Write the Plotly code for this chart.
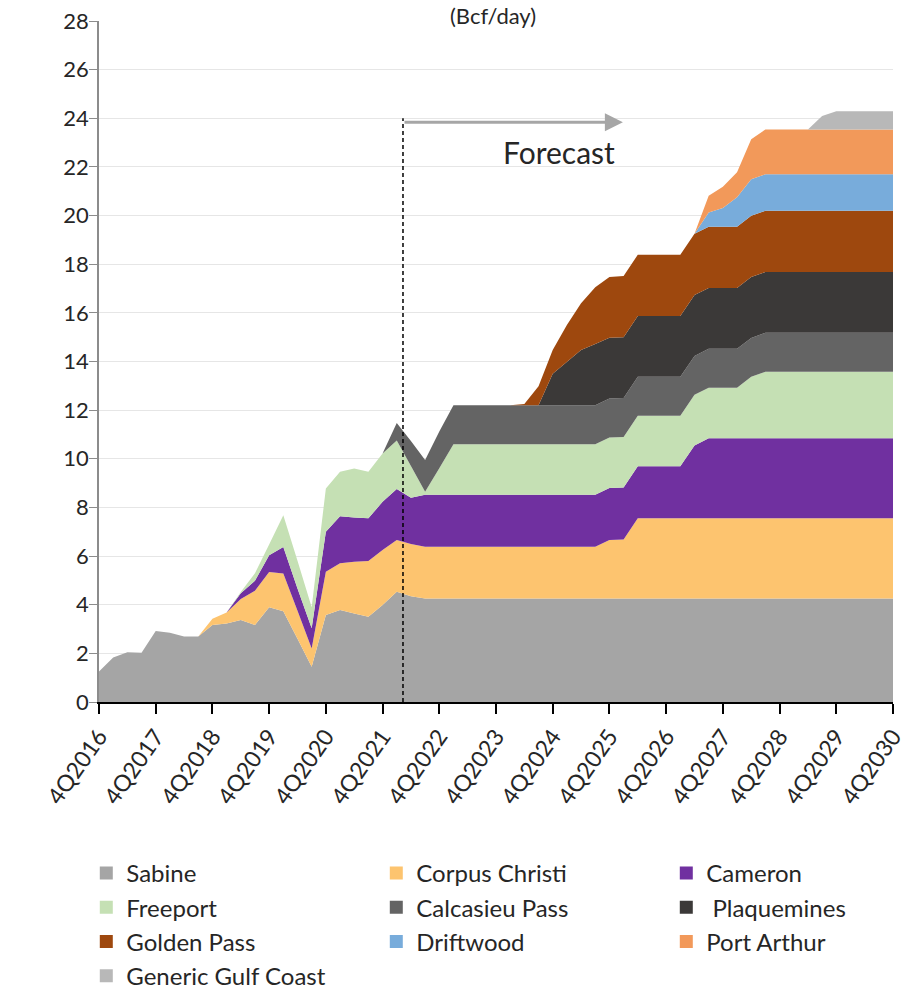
import plotly.graph_objects as go

# ---------------- data ----------------
quarters = [f"{((3 + i) % 4) + 1}Q{2016 + (3 + i) // 4}" for i in range(57)]
tick_labels = ["4Q2016", "4Q2017", "4Q2018", "4Q2019", "4Q2020", "4Q2021", "4Q2022", "4Q2023",
               "4Q2024", "4Q2025", "4Q2026", "4Q2027", "4Q2028", "4Q2029", "4Q2030"]

sabine = [1.25, 1.83, 2.05, 2.03, 2.92, 2.85, 2.69, 2.69, 3.17, 3.23, 3.37, 3.17, 3.90, 3.73,
          2.60, 1.45, 3.58, 3.78, 3.64, 3.51, 3.99, 4.53, 4.35, 4.26] + [4.26] * 33
corpus_christi = [0] * 8 + [0.25, 0.45, 0.87, 1.40, 1.45, 1.55, 1.15, 0.75, 1.78, 1.92, 2.13, 2.29,
                            2.26, 2.13, 2.15] + [2.12] * 13 + [2.40, 2.42] + [3.29] * 19
cameron = [0] * 10 + [0.23, 0.42, 0.68, 1.09, 0.92, 0.83, 1.64, 1.94, 1.82, 1.75, 1.98, 2.10,
                      1.90] + [2.14] * 19 + [3.00] + [3.29] * 14
freeport = [0] * 10 + [0.05, 0.30, 0.45, 1.31, 1.14, 0.87, 1.78, 1.83, 2.01, 1.92, 1.99, 1.99,
                       1.30, 0.12, 1.09] + [2.08] * 21 + [2.53] + [2.74] * 10
calcasieu = [0] * 21 + [0.72, 1.03, 1.31, 1.51] + [1.60] * 32
plaquemines = [0] * 32 + [1.30, 1.79, 2.27, 2.52] + [2.50] * 21
golden_pass = [0] * 30 + [0.05, 0.78, 0.97, 1.51, 1.92, 2.33, 2.49] + [2.52] * 20
driftwood = [0] * 43 + [0.59, 0.77, 1.21, 1.50] + [1.50] * 10
port_arthur = [0] * 43 + [0.69, 0.88, 1.03, 1.65] + [1.84] * 10
generic_gulf = [0] * 51 + [0.55] + [0.75] * 5

series_names = ["Sabine", "Corpus Christi", "Cameron", "Freeport", "Calcasieu Pass",
                " Plaquemines", "Golden Pass", "Driftwood", "Port Arthur", "Generic Gulf Coast"]
series_values = [sabine, corpus_christi, cameron, freeport, calcasieu, plaquemines,
                 golden_pass, driftwood, port_arthur, generic_gulf]
series_colors = ["#a5a5a5", "#fdc46f", "#7030a0", "#c5e0b4", "#646464", "#3b3938",
                 "#9e480e", "#78acdb", "#f2995a", "#b8b8b8"]

forecast_start = 21.44   # position of forecast divider (category index)
forecast_arrow_end = 36.95
forecast_level = 23.84

FONT = "Lato"
TXT = "#262626"

fig = go.Figure()
for name, vals, col in zip(series_names, series_values, series_colors):
    fig.add_trace(go.Scatter(
        x=quarters, y=vals, name=name, mode="lines", stackgroup="one",
        line=dict(width=0, color=col), fillcolor=col, showlegend=False,
        hoverinfo="x+y+name"))
for k, (name, col) in enumerate(zip(series_names, series_colors)):
    fig.add_trace(go.Scatter(
        x=[None], y=[None], name=name, mode="markers",
        marker=dict(symbol="square", size=13, color=col), showlegend=True,
        legendwidth=(150 if k % 3 == 2 else 245)))

fig.add_shape(type="line", xref="x", yref="y", x0=forecast_start, x1=forecast_start,
              y0=0, y1=24, line=dict(color="black", width=1.5, dash="4px,3px"))
fig.add_annotation(x=forecast_arrow_end, y=forecast_level, ax=forecast_start, ay=forecast_level,
                   xref="x", yref="y", axref="x", ayref="y", text="", showarrow=True,
                   arrowhead=2, arrowsize=1.2, arrowwidth=3, arrowcolor="#a6a6a6", standoff=0)
fig.add_annotation(x=32.44, y=22.6, xref="x", yref="y", text="Forecast", showarrow=False,
                   font=dict(family=FONT, size=30, color=TXT))
fig.add_annotation(x=0.496, y=1.0308, xref="paper", yref="paper", text="(Bcf/day)",
                   showarrow=False, yanchor="top",
                   font=dict(family=FONT, size=22, color=TXT))

fig.update_layout(
    width=909, height=994,
    margin=dict(l=99, r=16, t=21, b=292, autoexpand=False),
    paper_bgcolor="white", plot_bgcolor="white",
    font=dict(family=FONT, color=TXT),
    xaxis=dict(type="category", range=[0, 56], tickmode="array", tickvals=tick_labels,
               ticktext=tick_labels, tickangle=-55, tickfont=dict(size=23, color=TXT),
               showline=True, linecolor="black", linewidth=1.5, ticks="outside",
               ticklen=10, tickcolor="black", tickwidth=1.5, showgrid=False, zeroline=False,
               automargin=False),
    yaxis=dict(range=[0, 28], dtick=2, tickfont=dict(size=22, color=TXT),
               showline=True, linecolor="#8c8c8c", linewidth=1.5, ticks="outside",
               ticklen=8, tickcolor="#8c8c8c", gridcolor="#e6e6e6", zeroline=False,
               ticklabelstandoff=-4, automargin=False),
    legend=dict(orientation="h", x=-0.016, xanchor="left", y=-0.2188, yanchor="top",
                traceorder="normal", entrywidthmode="pixels",
                font=dict(family=FONT, size=24, color=TXT), bgcolor="rgba(0,0,0,0)"),
    showlegend=True,
)

fig.write_html("out.html", config={"displayModeBar": False},
               post_script="document.body.style.margin='0px';")
